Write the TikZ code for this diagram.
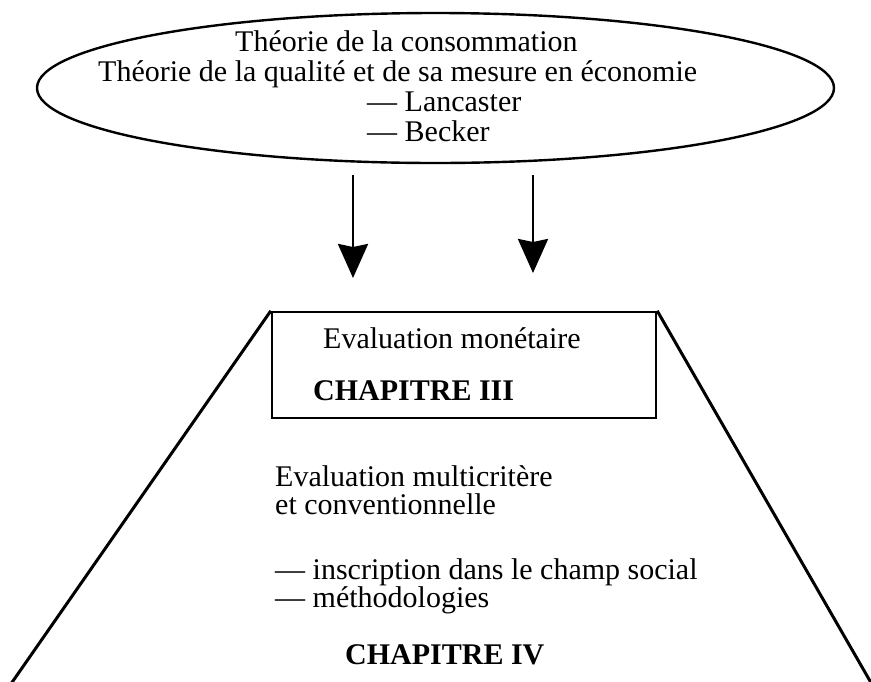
\documentclass[tikz,border=0pt]{standalone}
\usepackage{fontspec}
\setmainfont{Liberation Serif}
\usetikzlibrary{shapes.geometric,arrows.meta}
\begin{document}
\begin{tikzpicture}[x=1pt,y=-1pt,
  txt/.style={inner sep=0pt, anchor=base west, font=\fontsize{30}{36}\selectfont},
  txtb/.style={txt, font=\fontsize{30}{36}\selectfont\bfseries},
  arr/.style={line width=2.8pt, -{Stealth[width=30pt,length=34pt,inset=3pt]}},
  edge/.style={line width=3pt},
  thin/.style={line width=2.4pt}]
\useasboundingbox (0,0) rectangle (871,681);
\clip (0,0) rectangle (871,681);
% top ellipse
\node[ellipse, draw, thin, minimum width=797pt, minimum height=150pt, inner sep=0pt] (ell) at (435.5,88) {};
\node[txt] (t1) at (235,51) {Théorie de la consommation};
\node[txt] (t2) at (98,81) {Théorie de la qualité et de sa mesure en économie};
\node[txt] (t3) at (367,111) {— Lancaster};
\node[txt] (t4) at (367,141) {— Becker};
% arrows
\coordinate (a1s) at (353,175);
\coordinate (a1e) at (353,278);
\coordinate (a2s) at (533,175);
\coordinate (a2e) at (533,273);
\draw[arr] (a1s) -- (a1e);
\draw[arr] (a2s) -- (a2e);
% box
\node[draw, thin, minimum width=384pt, minimum height=106pt, inner sep=0pt] (box) at (464,365) {};
\node[txt] (b1) at (323,348) {Evaluation monétaire};
\node[txtb] (b2) at (313,400) {CHAPITRE III};
% trapezoid sides
\coordinate (bl) at (6.7,690);
\coordinate (br) at (875.2,690);
\draw[edge] (box.north west) -- (bl);
\draw[edge] (box.north east) -- (br);
% lower text
\node[txt] (l1) at (275,486) {Evaluation multicritère};
\node[txt] (l2) at (275,514) {et conventionnelle};
\node[txt] (l3) at (275,579) {— inscription dans le champ social};
\node[txt] (l4) at (275,607) {— méthodologies};
\node[txtb] (l5) at (345,664) {CHAPITRE IV};
\end{tikzpicture}
\end{document}
